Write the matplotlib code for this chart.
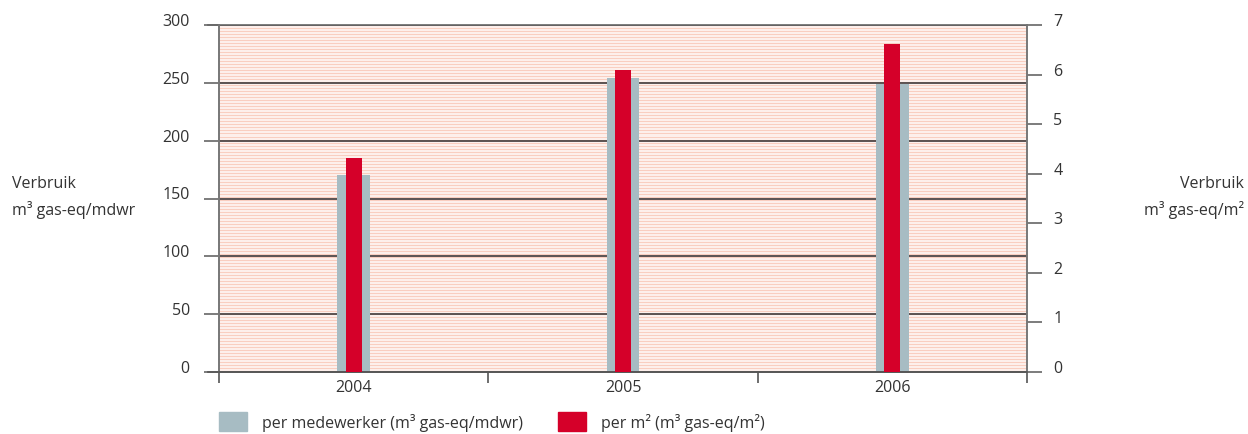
import numpy as np
import matplotlib.pyplot as plt
import matplotlib.transforms as mtransforms
from matplotlib.patches import Rectangle

plt.rcParams['font.family'] = ['Open Sans', 'DejaVu Sans']

# data
years = ['2004', '2005', '2006']
per_mdwr = [170, 254, 249]      # m3 gas-eq / medewerker (left axis)
per_m2 = [4.32, 6.1, 6.62]      # m3 gas-eq / m2 (right axis)
left_ticks = [0, 50, 100, 150, 200, 250, 300]
right_ticks = [0, 1, 2, 3, 4, 5, 6, 7]

grey = '#a7bcc3'
red = '#d50029'
grid_col = '#4e4646'
text_col = '#333333'
fs = 11.5

W, H = 1248, 435
fig = plt.figure(figsize=(W / 100, H / 100), dpi=100)
ax = fig.add_axes([219 / W, 1 - 373 / H, (1027 - 219) / W, (373 - 26) / H])
ax2 = ax.twinx()

x = np.arange(len(years))

# striped background
ax.set_facecolor('#fdefeb')
ax.hlines(np.arange(0.8, 300, 2.6), -0.5, 2.5, color='#f9cdbf', lw=0.7, zorder=0)
ax.hlines(left_ticks[1:], -0.5, 2.5, color=grid_col, lw=1.3, zorder=1)

ax.bar(x, per_mdwr, width=0.122, color=grey, zorder=2)
ax2.bar(x, per_m2, width=0.06, color=red, zorder=3)

ax.set_xlim(-0.5, 2.5)
ax.set_ylim(0, 300)
ax2.set_ylim(0, 7)

ax.set_yticks(left_ticks)
ax2.set_yticks(right_ticks)
ax.set_xticks(x)
ax.set_xticklabels(years, fontsize=fs, color=text_col)
ax.tick_params(axis='x', length=0, pad=5)
ax.set_xticks([-0.5, 0.5, 1.5, 2.5], minor=True)
ax.tick_params(axis='x', which='minor', length=8, width=1.2, color='#555555')

ax.tick_params(axis='y', length=11, width=1.2, color='#666666', pad=10,
               labelsize=fs, labelcolor=text_col)
ax2.tick_params(axis='y', length=11, width=1.2, color='#666666', pad=8,
                labelsize=fs, labelcolor=text_col)

# labels sit a bit above their ticks
shift = mtransforms.ScaledTranslation(0, 6 / 100, fig.dpi_scale_trans)
for lab in ax.get_yticklabels() + ax2.get_yticklabels():
    lab.set_transform(lab.get_transform() + shift)

for a in (ax, ax2):
    a.spines['top'].set_visible(False)
    a.spines['left'].set_color('#777777')
    a.spines['right'].set_color('#777777')
    a.spines['bottom'].set_color('#555555')
    a.spines['left'].set_linewidth(1.2)
    a.spines['right'].set_linewidth(1.2)
    a.spines['bottom'].set_linewidth(1.2)
ax.spines['bottom'].set_bounds(-0.5 - 11 / 270, 2.5)
ax.plot([-0.5 - 11 / 270, 2.5], [300, 300], color='#666666', lw=1.2,
        clip_on=False, zorder=4)

# axis titles
fig.text(12 / W, 1 - 184 / H, 'Verbruik', fontsize=fs, color=text_col, va='center')
fig.text(12 / W, 1 - 210 / H, 'm³ gas-eq/mdwr', fontsize=fs, color=text_col, va='center')
fig.text(1244 / W, 1 - 184 / H, 'Verbruik', fontsize=fs, color=text_col,
         va='center', ha='right')
fig.text(1244 / W, 1 - 210 / H, 'm³ gas-eq/m²', fontsize=fs, color=text_col,
         va='center', ha='right')

# legend
fig.patches.append(Rectangle((219 / W, 1 - 432 / H), 28 / W, 19 / H,
                             transform=fig.transFigure, color=grey))
fig.text(262 / W, 1 - 423 / H, 'per medewerker (m³ gas-eq/mdwr)', fontsize=fs,
         color=text_col, va='center')
fig.patches.append(Rectangle((558 / W, 1 - 432 / H), 28 / W, 19 / H,
                             transform=fig.transFigure, color=red))
fig.text(601 / W, 1 - 423 / H, 'per m² (m³ gas-eq/m²)', fontsize=fs,
         color=text_col, va='center')

fig.savefig('out.png', dpi=100)
